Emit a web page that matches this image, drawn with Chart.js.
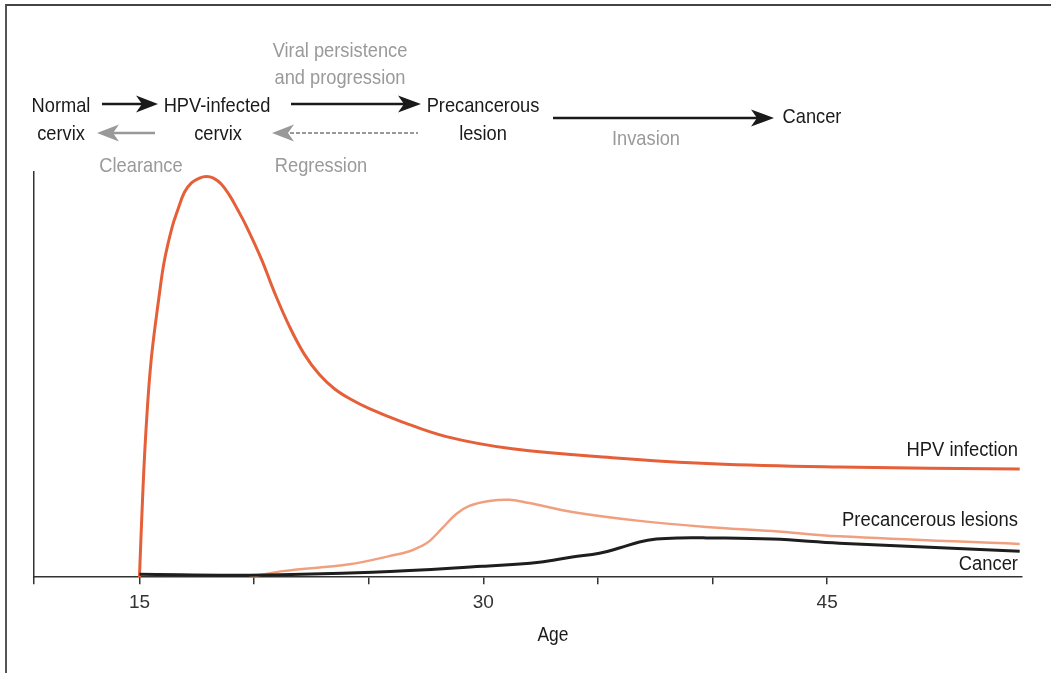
<!DOCTYPE html>
<html>
<head>
<meta charset="utf-8">
<script src="https://cdn.jsdelivr.net/npm/chart.js@4/dist/chart.umd.min.js"></script>
<style>
  html, body { margin: 0; padding: 0; background: #fff; }
  #wrap { position: relative; width: 1051px; height: 673px; overflow: hidden; }
  #frame { position: absolute; left: 5px; top: 4px; width: 1060px; height: 700px;
           border-top: 2px solid #444; border-left: 2px solid #555; }
  canvas { position: absolute; left: 0; top: 0; }
  svg { position: absolute; left: 0; top: 0; }
  .t { position: absolute; transform: translate(-50%, -50%) scaleX(0.87); white-space: nowrap; line-height: 1;
       font-family: "Liberation Sans", Arial, sans-serif; font-size: 21px; color: #1a1a1a; }
  .g { color: #9a9a9a; }
  .r { transform-origin: 100% 50%; transform: translate(-100%, -50%) scaleX(0.92); font-size: 20px; }
</style>
</head>
<body>
<div id="wrap">
  <div id="frame"></div>
  <canvas id="hpvChart" width="1051" height="673"></canvas>
  <svg width="1051" height="673">
    <!-- normal -> hpv -->
    <line x1="102" y1="104" x2="144" y2="104" stroke="#1a1a1a" stroke-width="2.5"/>
    <path d="M158 104 L136 95.5 L142 104 L136 112.5 Z" fill="#1a1a1a"/>
    <!-- clearance -->
    <line x1="110" y1="133" x2="155" y2="133" stroke="#999" stroke-width="2.5"/>
    <path d="M97 133 L119 124.5 L113 133 L119 141.5 Z" fill="#999"/>
    <!-- persistence -->
    <line x1="291" y1="104" x2="405" y2="104" stroke="#1a1a1a" stroke-width="2.5"/>
    <path d="M421 104 L398 95.5 L404 104 L398 112.5 Z" fill="#1a1a1a"/>
    <!-- regression -->
    <line x1="290" y1="133" x2="418" y2="133" stroke="#999" stroke-width="2" stroke-dasharray="4 2"/>
    <path d="M272 133 L294 124.5 L288 133 L294 141.5 Z" fill="#999"/>
    <!-- invasion -->
    <line x1="553" y1="118" x2="758" y2="118" stroke="#1a1a1a" stroke-width="2.5"/>
    <path d="M774 118 L751 109.5 L757 118 L751 126.5 Z" fill="#1a1a1a"/>
  </svg>

  <div class="t g" style="left:340px; top:49px;">Viral persistence</div>
  <div class="t g" style="left:340px; top:76px;">and progression</div>
  <div class="t" style="left:61px; top:104px;">Normal</div>
  <div class="t" style="left:61px; top:132px;">cervix</div>
  <div class="t" style="left:217px; top:104px;">HPV-infected</div>
  <div class="t" style="left:218px; top:132px;">cervix</div>
  <div class="t" style="left:483px; top:104px;">Precancerous</div>
  <div class="t" style="left:483px; top:132px;">lesion</div>
  <div class="t" style="left:812px; top:115px;">Cancer</div>
  <div class="t g" style="left:141px; top:164px;">Clearance</div>
  <div class="t g" style="left:321px; top:164px;">Regression</div>
  <div class="t g" style="left:646px; top:137px;">Invasion</div>

  <div class="t r" style="left:1018px; top:449px;">HPV infection</div>
  <div class="t r" style="left:1018px; top:519px;">Precancerous lesions</div>
  <div class="t r" style="left:1018px; top:563px;">Cancer</div>
  <div class="t" style="left:553px; top:634px; font-size:20px;">Age</div>
</div>

<script>
// ages, values in % of the y axis height
const hpvAges = [15.0, 15.144, 15.292, 15.51, 15.873, 16.091, 16.426, 16.67, 16.962, 17.268, 17.617, 17.922, 18.227, 18.576, 18.925, 19.274, 19.666, 20.321, 20.888, 21.542, 22.196, 22.85, 23.504, 24.158, 25.031, 26.339, 28.389, 31.267, 35.628, 39.989, 45.528, 53.4];
const hpvValues = [0, 20.5, 36.9, 53.5, 70.0, 78.2, 86.4, 90.6, 95.0, 97.3, 98.5, 98.9, 98.5, 97.0, 94.3, 90.8, 86.6, 78.5, 70.3, 61.9, 55.0, 50.0, 46.5, 44.1, 41.6, 38.6, 34.7, 31.7, 29.5, 28.0, 27.2, 26.7];

const precAges = [19.8, 21.24, 24.16, 25.9, 26.78, 27.3, 27.65, 28.21, 28.82, 29.39, 30.26, 31.14, 32.01, 33.88, 36.81, 39.73, 42.61, 45.53, 53.4];
const precValues = [0, 1.5, 3.2, 5.2, 6.4, 7.7, 8.9, 12.1, 15.6, 17.6, 18.8, 19.1, 18.3, 16.1, 13.9, 12.4, 11.4, 10.1, 8.2];

const cancerAges = [15.0, 19.8, 25.16, 29.96, 32.44, 33.88, 35.06, 35.93, 36.81, 37.55, 38.55, 39.73, 42.61, 45.53, 53.4];
const cancerValues = [0.7, 0.5, 1.2, 2.7, 3.7, 5.0, 5.9, 7.2, 8.7, 9.4, 9.7, 9.7, 9.4, 8.4, 6.4];

const tickValues = [10.4, 15, 20, 25, 30, 35, 40, 45];
const labeledTicks = [15, 30, 45];

function toPoints(xs, ys) {
    return xs.map((x, i) => ({ x: x, y: ys[i] }));
}

const ctx = document.getElementById('hpvChart');
const hpvChart = new Chart(ctx, {
    type: 'line',
    data: {
        datasets: [
            {
                label: 'Cancer',
                data: toPoints(cancerAges, cancerValues),
                borderColor: '#1e1e1e',
                borderWidth: 3
            },
            {
                label: 'HPV infection',
                data: toPoints(hpvAges, hpvValues),
                borderColor: '#e55f38',
                borderWidth: 3
            },
            {
                label: 'Precancerous lesions',
                data: toPoints(precAges, precValues),
                borderColor: '#f1a07f',
                borderWidth: 2.5
            }
        ]
    },
    options: {
        responsive: false,
        animation: false,
        devicePixelRatio: 1,
        layout: { padding: { left: 34, right: 29, top: 172, bottom: 52 } },
        elements: {
            point: { radius: 0 },
            line: { tension: 0.4, fill: false, capBezierPoints: true }
        },
        plugins: { legend: { display: false }, tooltip: { enabled: false } },
        scales: {
            x: {
                type: 'linear',
                min: 10.4,
                max: 53.5,
                afterBuildTicks: (scale) => {
                    scale.ticks = tickValues.map(v => ({ value: v }));
                },
                grid: { drawOnChartArea: false, drawTicks: true, tickLength: 7, color: '#333', lineWidth: 1.5 },
                border: { display: true, color: '#333', width: 1.5 },
                ticks: {
                    padding: 7,
                    autoSkip: false,
                    maxRotation: 0,
                    color: '#333',
                    font: { family: 'Liberation Sans, Arial, sans-serif', size: 19 },
                    callback: (v) => labeledTicks.includes(v) ? String(v) : ''
                }
            },
            y: {
                min: 0,
                max: 100,
                grid: { display: false, drawTicks: false },
                border: { display: true, color: '#333', width: 1.5 },
                ticks: { display: false }
            }
        }
    }
});
</script>
</body>
</html>
